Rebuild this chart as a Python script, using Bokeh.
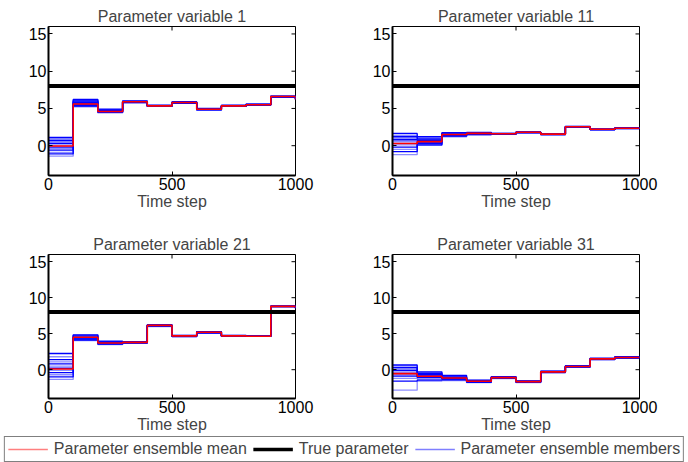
import math
from bokeh.plotting import figure
from bokeh.models import Range1d, FixedTicker, Legend, LegendItem, ColumnDataSource
from bokeh.layouts import column, row
from bokeh.embed import file_html
from bokeh.resources import INLINE

# ---------------- data ----------------
time_steps = [0, 100, 200, 300, 400, 500, 600, 700, 800, 900, 1000]
true_value = 8.0
titles = ["Parameter variable 1", "Parameter variable 11", "Parameter variable 21", "Parameter variable 31"]

mean_1 = [-0.05, 5.6, 4.6, 5.9, 5.35, 5.8, 4.9, 5.35, 5.5, 6.6, 6.2]
members_1 = [
    [1.1, 6.2, 4.9, 6.0, 5.4, 5.9, 5.0, 5.4, 5.6, 6.7, 6.4],
    [0.9, 6.1, 4.8, 6.0, 5.4, 5.8, 4.9, 5.4, 5.5, 6.6, 6.3],
    [0.7, 6.0, 4.8, 5.9, 5.3, 5.8, 4.9, 5.3, 5.5, 6.6, 6.3],
    [0.5, 5.9, 4.7, 5.9, 5.4, 5.8, 4.9, 5.4, 5.5, 6.6, 6.3],
    [0.3, 5.8, 4.7, 5.9, 5.3, 5.7, 4.8, 5.3, 5.5, 6.5, 6.2],
    [0.1, 5.7, 4.6, 5.8, 5.3, 5.8, 4.9, 5.3, 5.4, 6.6, 6.3],
    [-0.2, 5.6, 4.6, 5.9, 5.3, 5.8, 4.9, 5.3, 5.5, 6.6, 6.3],
    [-0.4, 5.5, 4.6, 5.9, 5.4, 5.7, 4.9, 5.4, 5.5, 6.6, 6.2],
    [-0.6, 5.4, 4.5, 5.8, 5.3, 5.8, 4.8, 5.3, 5.5, 6.5, 6.3],
    [-0.9, 5.3, 4.5, 5.9, 5.4, 5.8, 4.9, 5.4, 5.5, 6.6, 6.3],
    [-1.1, 5.3, 4.5, 5.9, 5.3, 5.8, 4.9, 5.3, 5.5, 6.6, 6.3],
    [-1.4, 5.2, 4.4, 5.8, 5.3, 5.7, 4.8, 5.3, 5.4, 6.5, 6.2],
]

mean_11 = [0.3, 0.55, 1.5, 1.65, 1.6, 1.8, 1.55, 2.55, 2.2, 2.35, 2.3]
members_11 = [
    [1.65, 1.2, 1.75, 1.8, 1.65, 1.85, 1.6, 2.6, 2.25, 2.4, 2.35],
    [1.4, 1.05, 1.7, 1.75, 1.65, 1.8, 1.6, 2.6, 2.2, 2.35, 2.3],
    [1.2, 0.9, 1.6, 1.7, 1.6, 1.8, 1.55, 2.55, 2.2, 2.35, 2.3],
    [1.0, 0.8, 1.6, 1.7, 1.65, 1.8, 1.55, 2.55, 2.2, 2.35, 2.3],
    [0.8, 0.7, 1.5, 1.65, 1.6, 1.75, 1.55, 2.5, 2.15, 2.35, 2.3],
    [0.6, 0.6, 1.5, 1.65, 1.6, 1.8, 1.5, 2.55, 2.2, 2.3, 2.25],
    [0.3, 0.5, 1.5, 1.6, 1.55, 1.8, 1.55, 2.55, 2.15, 2.35, 2.3],
    [0.1, 0.4, 1.4, 1.6, 1.6, 1.75, 1.5, 2.5, 2.2, 2.35, 2.3],
    [-0.2, 0.3, 1.4, 1.55, 1.55, 1.8, 1.55, 2.55, 2.15, 2.3, 2.25],
    [-0.5, 0.2, 1.3, 1.55, 1.6, 1.75, 1.5, 2.5, 2.2, 2.35, 2.3],
    [-0.8, 0.1, 1.3, 1.5, 1.55, 1.75, 1.5, 2.5, 2.15, 2.35, 2.3],
    [-1.2, 0.05, 1.2, 1.45, 1.55, 1.7, 1.5, 2.5, 2.15, 2.3, 2.25],
]

mean_21 = [0.1, 4.5, 3.7, 3.8, 6.15, 4.7, 5.2, 4.7, 4.65, 8.8, 8.6]
members_21 = [
    [2.25, 4.85, 3.95, 3.9, 6.25, 4.75, 5.3, 4.75, 4.65, 8.85, 8.65],
    [1.8, 4.8, 3.9, 3.9, 6.2, 4.75, 5.25, 4.75, 4.65, 8.8, 8.6],
    [1.4, 4.7, 3.85, 3.85, 6.2, 4.7, 5.25, 4.7, 4.65, 8.8, 8.6],
    [1.1, 4.6, 3.8, 3.85, 6.15, 4.7, 5.2, 4.7, 4.65, 8.8, 8.6],
    [0.8, 4.5, 3.75, 3.8, 6.15, 4.7, 5.2, 4.7, 4.65, 8.8, 8.6],
    [0.5, 4.45, 3.7, 3.8, 6.15, 4.7, 5.2, 4.7, 4.65, 8.75, 8.55],
    [0.2, 4.4, 3.7, 3.8, 6.1, 4.65, 5.2, 4.7, 4.65, 8.8, 8.6],
    [-0.1, 4.3, 3.65, 3.75, 6.1, 4.65, 5.15, 4.7, 4.65, 8.8, 8.6],
    [-0.4, 4.25, 3.6, 3.75, 6.1, 4.65, 5.15, 4.65, 4.65, 8.75, 8.55],
    [-0.7, 4.2, 3.6, 3.7, 6.05, 4.65, 5.15, 4.65, 4.65, 8.8, 8.6],
    [-1.0, 4.1, 3.55, 3.7, 6.05, 4.6, 5.1, 4.65, 4.65, 8.75, 8.55],
    [-1.35, 4.05, 3.5, 3.65, 6.0, 4.6, 5.1, 4.65, 4.65, 8.75, 8.55],
]

mean_31 = [-0.55, -0.9, -1.15, -1.6, -1.1, -1.65, -0.3, 0.45, 1.5, 1.7, 1.7]
members_31 = [
    [0.65, -0.3, -0.8, -1.45, -0.95, -1.55, -0.2, 0.55, 1.6, 1.8, 1.75],
    [0.5, -0.4, -0.9, -1.5, -1.0, -1.6, -0.25, 0.5, 1.55, 1.75, 1.75],
    [0.3, -0.5, -1.0, -1.55, -1.05, -1.6, -0.25, 0.5, 1.55, 1.75, 1.7],
    [0.1, -0.6, -1.05, -1.55, -1.05, -1.65, -0.3, 0.45, 1.5, 1.7, 1.7],
    [-0.1, -0.7, -1.1, -1.6, -1.1, -1.65, -0.3, 0.45, 1.5, 1.7, 1.7],
    [-0.3, -0.8, -1.15, -1.6, -1.1, -1.65, -0.3, 0.45, 1.5, 1.7, 1.7],
    [-0.5, -0.9, -1.2, -1.6, -1.1, -1.7, -0.3, 0.45, 1.5, 1.7, 1.7],
    [-0.7, -1.0, -1.25, -1.65, -1.15, -1.7, -0.35, 0.4, 1.45, 1.65, 1.65],
    [-0.9, -1.1, -1.3, -1.65, -1.15, -1.7, -0.35, 0.4, 1.45, 1.65, 1.65],
    [-1.2, -1.3, -1.35, -1.7, -1.2, -1.75, -0.35, 0.4, 1.45, 1.65, 1.65],
    [-1.6, -1.45, -1.4, -1.75, -1.2, -1.75, -0.4, 0.35, 1.4, 1.6, 1.6],
    [-2.85, -1.6, -1.5, -1.8, -1.25, -1.8, -0.4, 0.35, 1.4, 1.6, 1.6],
]

means = [mean_1, mean_11, mean_21, mean_31]
members = [members_1, members_11, members_21, members_31]
x_ticks = [0, 500, 1000]
y_ticks = [0, 5, 10, 15]
x_lim = (0, 1000)
y_lim = (-4, 16)

FONT = "Liberation Sans"
FS = "16px"


def make_panel(idx, width, height, bl, br, bt, bb):
    p = figure(width=width, height=height, output_backend="svg", toolbar_location=None,
               x_range=Range1d(*x_lim), y_range=Range1d(*y_lim),
               min_border_left=bl, min_border_right=br, min_border_top=bt, min_border_bottom=bb,
               x_axis_label="Time step")
    p.title.text = titles[idx]
    p.title.align = "center"
    p.title.text_font = FONT
    p.title.text_font_size = FS
    p.title.text_font_style = "normal"
    p.title.standoff = 4
    p.grid.visible = False
    p.outline_line_color = "black"
    p.outline_line_width = 1
    p.xaxis.ticker = FixedTicker(ticks=x_ticks)
    p.yaxis.ticker = FixedTicker(ticks=y_ticks)
    for ax in p.axis:
        ax.major_tick_in = 4
        ax.major_tick_out = 0
        ax.minor_tick_line_color = None
        ax.axis_line_color = "black"
        ax.axis_line_width = 2
        ax.major_label_text_font = FONT
        ax.major_label_text_font_size = FS
        ax.major_label_text_color = "black"
        ax.axis_label_text_font = FONT
        ax.axis_label_text_font_size = FS
        ax.axis_label_text_font_style = "normal"
        ax.major_label_standoff = 2
        ax.axis_label_standoff = 0
    # box-style inward ticks on the right and top edges (screen-length rays)
    p.ray(x=[x_lim[1]] * len(y_ticks), y=y_ticks, length=4, length_units="screen",
          angle=math.pi, line_color="black", line_width=1)
    p.ray(x=x_ticks, y=[y_lim[1]] * len(x_ticks), length=4, length_units="screen",
          angle=-math.pi / 2, line_color="black", line_width=1)

    for k, m in enumerate(members[idx]):
        p.step(time_steps, m, mode="after", line_color="#0000ff", line_width=1.3,
               line_alpha=1.0 if k % 2 == 0 else 0.45)
    p.step(time_steps, means[idx], mode="after", line_color="#ff0000", line_width=1.6)
    p.line([time_steps[0], time_steps[-1]], [true_value, true_value], line_color="black", line_width=4)
    return p


p1 = make_panel(0, 344, 228, 48, 49, 26, 53)
p2 = make_panel(1, 344, 228, 48, 49, 26, 53)
p3 = make_panel(2, 344, 208, 48, 49, 26, 38)
p4 = make_panel(3, 344, 208, 48, 49, 26, 38)

# legend strip
leg = figure(width=688, height=26, output_backend="svg", toolbar_location=None,
             x_range=Range1d(0, 1), y_range=Range1d(0, 1),
             min_border_left=0, min_border_right=0, min_border_top=0, min_border_bottom=0)
leg.axis.visible = False
leg.grid.visible = False
leg.outline_line_color = None
offscreen = ColumnDataSource(data=dict(x=[5, 6], y=[5, 6]))
r_mean = leg.line("x", "y", source=offscreen, line_color="#ff0000", line_alpha=0.5, line_width=1.5)
r_true = leg.line("x", "y", source=offscreen, line_color="black", line_width=3.5)
r_mem = leg.line("x", "y", source=offscreen, line_color="#0000ff", line_alpha=0.5, line_width=1.5)
legend = Legend(items=[LegendItem(label="Parameter ensemble mean", renderers=[r_mean]),
                       LegendItem(label="True parameter", renderers=[r_true]),
                       LegendItem(label="Parameter ensemble members", renderers=[r_mem])],
                orientation="horizontal", location="center",
                label_text_font=FONT, label_text_font_size=FS,
                glyph_width=40, glyph_height=14, label_height=14, label_standoff=6, spacing=6,
                padding=3, margin=0, border_line_color="black", border_line_width=1)
leg.add_layout(legend, "center")

layout = column(row(p1, p2), row(p3, p4), leg)

open("out.html", "w").write(file_html(layout, INLINE))
